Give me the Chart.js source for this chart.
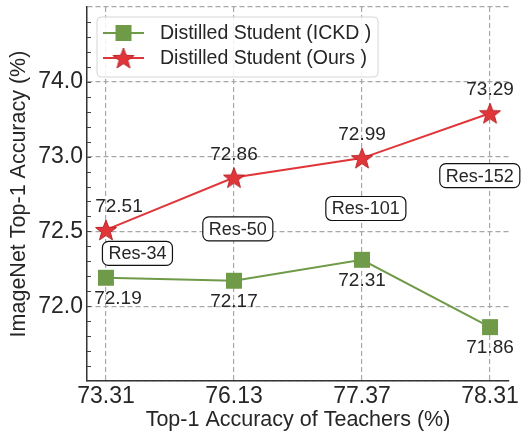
<!DOCTYPE html>
<html>
<head>
<meta charset="utf-8">
<script src="https://cdn.jsdelivr.net/npm/chart.js@4.4.0/dist/chart.umd.min.js"></script>
<style>
  html, body { margin: 0; padding: 0; background: #fff; }
  #wrap { width: 521px; height: 433px; }
</style>
</head>
<body>
<div id="wrap"><canvas id="myChart" width="521" height="433"></canvas></div>
<script>
// data
const teacherAcc = ['73.31', '76.13', '77.37', '78.31'];
const teacherNames = ['Res-34', 'Res-50', 'Res-101', 'Res-152'];
const ickdAcc = [72.19, 72.17, 72.31, 71.86];
const oursAcc = [72.51, 72.86, 72.99, 73.29];
const yTickValues = [71.5, 72.0, 72.5, 73.0, 73.5, 74.0];
const yTickLabels = ['', '72.0', '72.5', '73.0', '74.0', ''];
const seriesNames = ['Distilled Student (ICKD )', 'Distilled Student (Ours )'];

const GREEN = '#6f9a48';
const RED = '#e0363a';
const FONT = "'Liberation Sans', Arial, sans-serif";
const TEXT = '#262626';

// filled star marker (chart.js 'star' is only stroked)
function makeStar(R, fill, stroke) {
  const c = document.createElement('canvas');
  const s = Math.ceil(R * 2 + 4);
  c.width = s;
  c.height = s;
  const g = c.getContext('2d');
  const r = R * 0.42;
  g.beginPath();
  for (let i = 0; i < 10; i++) {
    const a = -Math.PI / 2 + i * Math.PI / 5;
    const rad = i % 2 ? r : R;
    const px = s / 2 + rad * Math.cos(a);
    const py = s / 2 + 1 + rad * Math.sin(a);
    if (i === 0) g.moveTo(px, py); else g.lineTo(px, py);
  }
  g.closePath();
  g.fillStyle = fill;
  g.fill();
  g.strokeStyle = stroke;
  g.lineWidth = 1;
  g.stroke();
  return c;
}
const starImg = makeStar(11, RED, '#b8262b');

function toPoints(arr) {
  return arr.map((v, i) => ({ x: i, y: v }));
}

// minor ticks on the left spine
const minorTicks = {
  id: 'minorTicks',
  afterDraw(chart) {
    const ctx = chart.ctx;
    const y = chart.scales.y;
    const left = chart.chartArea.left;
    ctx.save();
    ctx.strokeStyle = '#444';
    ctx.lineWidth = 1;
    for (let v = 71.6; v < 73.95; v += 0.1) {
      const py = Math.round(y.getPixelForValue(v)) + 0.5;
      ctx.beginPath();
      ctx.moveTo(left, py);
      ctx.lineTo(left + 4, py);
      ctx.stroke();
    }
    ctx.restore();
  }
};

// value labels and teacher boxes
const annotate = {
  id: 'annotate',
  afterDatasetsDraw(chart, args, opts) {
    const ctx = chart.ctx;
    const xs = chart.scales.x;
    const ys = chart.scales.y;
    ctx.save();
    ctx.fillStyle = TEXT;
    ctx.font = '19px ' + FONT;
    ctx.textAlign = 'center';
    ctx.textBaseline = 'middle';
    oursAcc.forEach((v, i) => {
      const dx = i === 0 ? 13 : 0;
      ctx.fillText(v.toFixed(2), xs.getPixelForValue(i) + dx, ys.getPixelForValue(v) - 23);
    });
    ickdAcc.forEach((v, i) => {
      const dx = i === 0 ? 12 : 0;
      ctx.fillText(v.toFixed(2), xs.getPixelForValue(i) + dx, ys.getPixelForValue(v) + 21);
    });

    ctx.font = '18px ' + FONT;
    teacherNames.forEach((name, i) => {
      const a = opts.anchors[i];
      const cx = xs.getPixelForValue(a.x);
      const cy = ys.getPixelForValue(a.y);
      const w = ctx.measureText(name).width + 12;
      const h = 24;
      ctx.beginPath();
      ctx.roundRect(cx - w / 2, cy - h / 2, w, h, 6);
      ctx.fillStyle = '#fff';
      ctx.fill();
      ctx.strokeStyle = '#111';
      ctx.lineWidth = 1.2;
      ctx.stroke();
      ctx.fillStyle = TEXT;
      ctx.fillText(name, cx, cy + 1);
    });
    ctx.restore();
  }
};

// legend with line + marker like matplotlib
const lineLegend = {
  id: 'lineLegend',
  afterDraw(chart) {
    const ctx = chart.ctx;
    const x0 = 97, y0 = 17, w = 281, h = 60;
    ctx.save();
    ctx.beginPath();
    ctx.roundRect(x0, y0, w, h, 4);
    ctx.fillStyle = 'rgba(255,255,255,0.85)';
    ctx.fill();
    ctx.strokeStyle = '#d6d6d6';
    ctx.lineWidth = 1;
    ctx.stroke();

    const rows = [33, 58];
    chart.data.datasets.forEach((ds, i) => {
      const ry = rows[i];
      ctx.strokeStyle = ds.borderColor;
      ctx.lineWidth = 2;
      ctx.beginPath();
      ctx.moveTo(103, ry);
      ctx.lineTo(144, ry);
      ctx.stroke();
      if (ds.pointStyle === 'rect') {
        ctx.fillStyle = ds.pointBackgroundColor;
        ctx.fillRect(123.5 - 8, ry - 8, 16, 16);
      } else {
        ctx.drawImage(ds.pointStyle, 123.5 - ds.pointStyle.width / 2, ry - ds.pointStyle.height / 2);
      }
      ctx.fillStyle = TEXT;
      ctx.font = '19.5px ' + FONT;
      ctx.textAlign = 'left';
      ctx.textBaseline = 'middle';
      ctx.fillText(ds.label, 160, ry + 1);
    });
    ctx.restore();
  }
};

const ctx1 = document.getElementById('myChart').getContext('2d');
const chart1 = new Chart(ctx1, {
  type: 'line',
  data: {
    datasets: [{
      label: seriesNames[0],
      data: toPoints(ickdAcc),
      borderColor: GREEN,
      backgroundColor: GREEN,
      pointBackgroundColor: GREEN,
      pointBorderColor: GREEN,
      pointBorderWidth: 0,
      pointStyle: 'rect',
      pointRadius: 11.3,
      borderWidth: 2,
      tension: 0
    }, {
      label: seriesNames[1],
      data: toPoints(oursAcc),
      borderColor: RED,
      backgroundColor: RED,
      pointStyle: starImg,
      pointRadius: 11,
      borderWidth: 2,
      tension: 0
    }]
  },
  options: {
    responsive: false,
    animation: false,
    events: [],
    layout: { autoPadding: false, padding: { top: 7, right: 12, left: 0, bottom: 0 } },
    plugins: {
      legend: { display: false },
      tooltip: { enabled: false },
      annotate: {
        anchors: [
          { x: 0.246, y: 72.353 },
          { x: 1.03, y: 72.517 },
          { x: 2.03, y: 72.653 },
          { x: 2.92, y: 72.873 }
        ]
      }
    },
    scales: {
      x: {
        type: 'linear',
        min: -0.148,
        max: 3.148,
        afterBuildTicks: (axis) => { axis.ticks = teacherAcc.map((t, i) => ({ value: i })); },
        afterFit: (axis) => { axis.height = 52; axis.paddingLeft = 0; axis.paddingRight = 0; },
        ticks: {
          callback: (v) => teacherAcc[v],
          color: TEXT,
          font: { family: FONT, size: 23 },
          padding: 2,
          maxRotation: 0,
          autoSkip: false
        },
        grid: { color: '#a8a8a8', lineWidth: 1.2, drawTicks: false },
        border: { color: '#333', width: 1.5, dash: [5, 3] },
        title: {
          display: true,
          text: 'Top-1 Accuracy of Teachers (%)',
          color: TEXT,
          font: { family: FONT, size: 21.5 },
          padding: 0
        }
      },
      y: {
        min: 71.5,
        max: 74.0,
        afterBuildTicks: (axis) => { axis.ticks = yTickValues.map(v => ({ value: v })); },
        afterFit: (axis) => { axis.width = 87; axis.paddingTop = 0; axis.paddingBottom = 0; },
        ticks: {
          callback: (v, i) => yTickLabels[i],
          color: TEXT,
          font: { family: FONT, size: 23 },
          padding: 4
        },
        grid: { color: '#a8a8a8', lineWidth: 1.2, drawTicks: false },
        border: { color: '#333', width: 1.5, dash: [5, 3] },
        title: {
          display: true,
          text: 'ImageNet Top-1 Accuracy (%)',
          color: TEXT,
          font: { family: FONT, size: 21.5 },
          padding: { top: 6, bottom: 0 }
        }
      }
    }
  },
  plugins: [minorTicks, annotate, lineLegend]
});
</script>
</body>
</html>
